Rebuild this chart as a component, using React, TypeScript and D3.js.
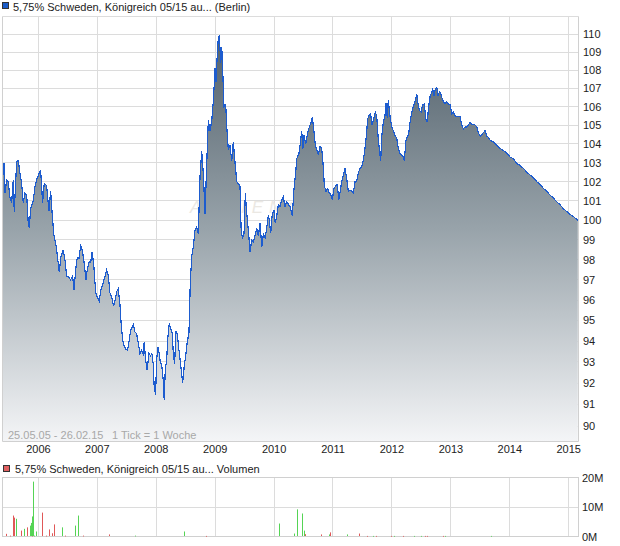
import React from 'react';
import * as d3 from 'd3';

// weekly closing prices: [decimal year, price]
const priceSeries: [number, number][] = [
[2005.392,102.2],[2005.414,103.0],[2005.431,101.4],[2005.460,102.1],[2005.487,102.0],[2005.516,101.2],[2005.545,100.9],[2005.572,102.1],[2005.589,100.45],[2005.630,103.05],[2005.657,103.1],[2005.686,102.45],[2005.715,101.9],[2005.742,100.9],[2005.771,101.4],[2005.800,101.3],[2005.827,99.85],[2005.844,99.6],[2005.868,100.6],[2005.912,101.0],[2005.941,101.75],[2005.969,102.1],
[2006.014,102.45],[2006.037,102.6],[2006.071,100.9],[2006.098,101.9],[2006.139,101.8],[2006.178,100.5],[2006.207,101.5],[2006.241,100.0],[2006.263,99.25],[2006.297,98.75],[2006.319,98.25],[2006.353,97.4],[2006.382,98.15],[2006.421,98.5],[2006.450,98.0],[2006.479,97.15],[2006.506,97.15],[2006.547,97.0],[2006.581,97.2],[2006.603,96.5],[2006.637,97.6],[2006.659,98.1],[2006.688,98.05],[2006.716,98.7],[2006.744,98.5],[2006.778,97.8],[2006.806,97.0],[2006.829,97.5],[2006.862,97.9],[2006.886,97.85],[2006.913,98.4],[2006.942,97.65],[2006.971,96.4],[2006.998,96.15],
[2007.032,95.95],[2007.061,96.5],[2007.100,96.85],[2007.129,97.15],[2007.158,97.5],[2007.185,97.25],[2007.214,96.35],[2007.248,96.1],[2007.277,95.7],[2007.299,95.95],[2007.328,96.4],[2007.355,96.55],[2007.384,95.8],[2007.406,94.8],[2007.430,94.05],[2007.452,93.8],[2007.486,93.6],[2007.514,93.55],[2007.542,94.05],[2007.565,94.5],[2007.593,94.7],[2007.610,94.8],[2007.638,94.45],[2007.667,94.35],[2007.694,93.95],[2007.723,93.4],[2007.752,93.55],[2007.779,93.4],[2007.796,93.95],[2007.820,93.1],[2007.847,92.6],[2007.876,93.4],[2007.905,93.3],[2007.927,93.4],[2007.949,92.9],[2007.966,91.8],[2007.990,91.45],
[2008.007,93.1],[2008.029,93.7],[2008.051,93.4],[2008.068,93.0],[2008.092,92.9],[2008.119,92.15],[2008.136,91.2],[2008.153,92.6],[2008.177,93.1],[2008.194,94.05],[2008.221,94.85],[2008.245,94.6],[2008.272,94.4],[2008.289,93.4],[2008.312,92.9],[2008.335,94.5],[2008.357,94.35],[2008.380,93.7],[2008.402,93.2],[2008.425,92.6],[2008.448,92.0],[2008.475,92.8],[2008.504,93.4],[2008.526,93.95],[2008.555,94.4],[2008.577,96.8],[2008.601,98.15],[2008.628,98.65],[2008.657,99.5],[2008.686,99.65],[2008.713,99.3],[2008.742,102.25],[2008.771,103.6],[2008.798,102.45],[2008.827,100.35],[2008.856,102.95],[2008.883,105.25],[2008.912,104.7],[2008.941,105.25],[2008.968,106.3],[2008.997,108.1],
[2009.014,107.35],[2009.036,109.0],[2009.053,109.8],[2009.070,109.9],[2009.093,108.4],[2009.110,109.3],[2009.127,108.0],[2009.149,106.0],[2009.178,106.1],[2009.200,104.7],[2009.222,103.7],[2009.251,103.9],[2009.280,103.1],[2009.307,104.1],[2009.336,103.0],[2009.365,102.0],[2009.392,101.9],[2009.421,101.75],[2009.438,99.65],[2009.460,99.1],[2009.489,99.3],[2009.511,101.4],[2009.535,100.35],[2009.562,99.5],[2009.591,98.4],[2009.620,99.0],[2009.647,98.9],[2009.676,99.25],[2009.705,99.6],[2009.732,99.2],[2009.761,99.85],[2009.790,98.65],[2009.817,99.3],[2009.846,99.1],[2009.874,99.6],[2009.902,100.25],[2009.919,100.0],[2009.942,99.35],[2009.969,100.35],[2009.998,100.5],
[2010.020,99.85],[2010.044,100.2],[2010.071,100.8],[2010.100,100.7],[2010.129,101.05],[2010.156,101.2],[2010.185,100.7],[2010.214,100.95],[2010.270,100.7],[2010.309,100.25],[2010.338,101.65],[2010.367,102.5],[2010.384,103.2],[2010.423,103.5],[2010.452,104.2],[2010.469,104.7],[2010.486,103.7],[2010.508,104.45],[2010.537,104.0],[2010.571,104.6],[2010.598,104.9],[2010.627,105.15],[2010.649,105.45],[2010.678,104.6],[2010.700,103.9],[2010.723,103.7],[2010.751,103.4],[2010.779,103.85],[2010.808,103.75],[2010.835,102.8],[2010.852,101.8],[2010.881,101.5],[2010.910,101.65],[2010.937,101.4],[2010.961,101.35],[2010.988,101.05],
[2011.017,101.65],[2011.051,101.8],[2011.073,101.85],[2011.097,101.05],[2011.119,101.45],[2011.148,102.0],[2011.175,102.35],[2011.204,102.7],[2011.233,102.15],[2011.260,101.5],[2011.289,101.55],[2011.318,101.5],[2011.345,101.4],[2011.374,102.0],[2011.402,102.0],[2011.430,102.45],[2011.458,102.7],[2011.487,102.8],[2011.514,103.1],[2011.543,103.75],[2011.572,104.6],[2011.589,105.35],[2011.611,105.5],[2011.640,105.6],[2011.662,105.0],[2011.691,105.3],[2011.718,105.7],[2011.742,105.5],[2011.764,104.45],[2011.786,103.75],[2011.810,103.1],[2011.827,104.35],[2011.854,105.15],[2011.883,105.5],[2011.900,106.2],[2011.922,105.4],[2011.939,106.35],[2011.968,105.5],[2011.997,104.9],
[2012.024,104.7],[2012.053,104.45],[2012.082,104.3],[2012.109,103.75],[2012.138,103.5],[2012.166,103.4],[2012.194,103.3],[2012.211,103.1],[2012.239,104.2],[2012.261,104.35],[2012.285,104.55],[2012.307,105.15],[2012.336,105.7],[2012.363,106.0],[2012.392,106.25],[2012.421,106.7],[2012.443,106.15],[2012.465,105.8],[2012.494,105.7],[2012.523,106.1],[2012.550,106.15],[2012.574,105.35],[2012.601,105.15],[2012.618,105.9],[2012.647,106.55],[2012.676,106.8],[2012.693,106.95],[2012.715,106.6],[2012.732,106.9],[2012.761,107.05],[2012.783,106.6],[2012.805,106.8],[2012.829,106.7],[2012.851,106.45],[2012.873,106.25],[2012.902,106.15],[2012.930,106.25],[2012.958,106.15],[2012.986,106.1],
[2013.015,105.6],[2013.042,105.7],[2013.071,105.5],[2013.100,105.45],[2013.127,105.45],[2013.156,105.45],[2013.185,105.0],[2013.212,104.8],[2013.241,104.9],[2013.270,104.9],[2013.297,105.0],[2013.326,105.15],[2013.355,105.05],[2013.382,105.05],[2013.411,105.0],[2013.440,104.9],[2013.467,104.6],[2013.496,104.4],[2013.525,104.5],[2013.552,104.6],[2013.581,104.7],[2013.610,104.4],[2013.637,104.35],[2013.666,104.2],[2013.722,104.1],[2013.779,103.9],[2013.835,103.75],[2013.891,103.65],[2013.949,103.5],
[2014.005,103.3],[2014.061,103.2],[2014.119,102.95],[2014.175,102.85],[2014.231,102.7],[2014.289,102.5],[2014.345,102.35],[2014.401,102.2],[2014.458,102.0],[2014.514,101.85],[2014.571,101.65],[2014.628,101.5],[2014.684,101.3],[2014.740,101.15],[2014.798,100.95],[2014.854,100.8],[2014.910,100.6],[2014.968,100.45],
[2015.024,100.3],[2015.080,100.2],[2015.155,100.0]
];

// weekly volume: [decimal year, volume in millions, 1 = up week (green) / 0 = down week (red)]
const volumeSeries: [number, number, number][] = [
[2005.441,0.9,0],[2005.514,0.3,0],[2005.562,7.1,0],[2005.589,6.4,0],[2005.616,6.0,1],[2005.710,2.0,0],[2005.757,2.6,1],[2005.805,3.1,0],[2005.852,3.7,1],[2005.873,4.6,1],[2005.885,0.3,0],[2005.898,6.8,1],[2005.912,18.6,1],[2005.925,0.3,1],[2005.952,1.7,1],
[2006.068,8.1,0],[2006.121,0.3,0],[2006.182,2.4,0],[2006.222,1.1,0],[2006.256,4.1,0],[2006.404,3.1,1],[2006.445,0.3,0],[2006.626,3.7,1],[2006.667,7.1,1],[2006.761,0.3,0],
[2007.199,0.7,0],[2007.637,0.3,1],[2008.472,1.7,1],[2008.837,0.2,0],
[2010.076,4.4,1],[2010.345,1.0,1],[2010.385,9.2,1],[2010.467,7.8,1],[2010.508,2.0,1],[2010.521,0.8,0],[2010.790,0.7,0],[2010.925,0.7,1],[2010.953,1.4,0],
[2011.234,0.7,1],[2011.436,1.0,0],[2011.579,0.2,0],[2011.679,0.2,1],[2011.734,0.2,0],[2011.983,0.2,0],
[2012.036,0.2,1],[2012.185,0.2,0],[2012.367,0.2,1],[2012.487,0.2,1],[2012.569,0.2,0],[2012.596,0.2,0],[2012.859,0.2,0],[2012.905,0.2,1],[2013.688,0.2,1]
];

const priceTicks = [90, 91, 92, 93, 94, 95, 96, 97, 98, 99, 100, 101, 102, 103, 104, 105, 106, 107, 108, 109, 110];
const gridLevels = [90, 91, 92, 93, 94, 95, 96, 97, 98, 99, 100, 101, 102, 103, 104, 105, 106, 107, 108, 109, 110, 111];
const yearTicks = [2006, 2007, 2008, 2009, 2010, 2011, 2012, 2013, 2014, 2015];
const volumeTicks = [0, 10, 20];
const volumeTickLabels = ['0M', '10M', '20M'];

const titleText = '5,75% Schweden, Königreich 05/15 au... (Berlin)';
const volumeTitle = '5,75% Schweden, Königreich 05/15 au... Volumen';
const rangeText = '25.05.05 - 26.02.15';
const tickText = '1 Tick = 1 Woche';

const FONT = '"Liberation Sans", Arial, Helvetica, sans-serif';

function toDate(t: number): Date {
  const y = Math.floor(t);
  const s = Date.UTC(y, 0, 1);
  const e = Date.UTC(y + 1, 0, 1);
  return new Date(s + (t - y) * (e - s));
}

export default function App() {
  const L = 2.5, R = 578.5, T = 16.5, B = 441.5;
  const VT = 477.5, VB = 536.5;

  const x = d3.scaleUtc()
    .domain([new Date(Date.UTC(2005, 4, 25)), new Date(Date.UTC(2015, 1, 26))])
    .range([2.8, 577.7]);
  const y = d3.scaleLog().domain([90, 110]).range([426, 34.3]);
  const yv = d3.scaleLinear().domain([0, 20]).range([VB, VT]);

  const area = d3.area<[number, number]>()
    .x(d => x(toDate(d[0])))
    .y0(B)
    .y1(d => y(d[1]));
  const line = d3.line<[number, number]>()
    .x(d => x(toDate(d[0])))
    .y(d => y(d[1]));

  const snap = (v: number) => Math.round(v - 0.5) + 0.5;
  const gridColor = '#dcdcdc';

  return (
    <svg width={620} height={546} style={{ position: 'absolute', left: 0, top: 0, background: '#fff' }}
      fontFamily={FONT}>
      <defs>
        <linearGradient id="areaGrad" gradientUnits="userSpaceOnUse" x1={0} y1={T} x2={0} y2={B}>
          <stop offset="0%" stopColor="#4b5a65" />
          <stop offset="50%" stopColor="#98a3aa" />
          <stop offset="100%" stopColor="#f4f5f7" />
        </linearGradient>
        <clipPath id="plotClip">
          <rect x={L} y={T} width={R - L} height={B - T} />
        </clipPath>
      </defs>

      {/* title legend */}
      <rect x={2.5} y={2.5} width={6} height={6} fill="#1a5cc8" stroke="#333" strokeWidth={1} />
      <text x={13} y={10.5} fontSize={11} fill="#222">{titleText}</text>

      {/* main grid */}
      {gridLevels.map(v => (
        <line key={'h' + v} x1={L} x2={R} y1={snap(y(v))} y2={snap(y(v))} stroke={gridColor} />
      ))}
      {yearTicks.map(yr => {
        const xx = snap(x(new Date(Date.UTC(yr, 0, 1))));
        return <line key={'v' + yr} x1={xx} x2={xx} y1={T} y2={B} stroke={gridColor} />;
      })}

      {/* watermark */}
      <text x={190} y={213} fontSize={17} fontStyle="italic" letterSpacing={6} fill="#ebe8e3">AKTIENCHECK</text>

      {/* area + line */}
      <g clipPath="url(#plotClip)">
        <path d={area(priceSeries) || ''} fill="url(#areaGrad)" />
        <path d={line(priceSeries) || ''} fill="none" stroke="#1d5ccf" strokeWidth={1.2}
          shapeRendering="crispEdges" />
      </g>

      {/* frame */}
      <line x1={L} x2={L} y1={T} y2={B} stroke="#d0d0d0" />
      <line x1={R} x2={R} y1={T} y2={B} stroke="#d0d0d0" />
      <line x1={L} x2={R} y1={B} y2={B} stroke="#d0d0d0" />

      <text x={8} y={438.5} fontSize={11} fill="#a8a8a8">{rangeText}</text>
      <text x={112} y={438.5} fontSize={11} fill="#a8a8a8">{tickText}</text>

      {/* right axis */}
      {priceTicks.map(v => (
        <text key={'t' + v} x={583} y={y(v) + 4} fontSize={11} fill="#222">{v}</text>
      ))}

      {/* year axis */}
      {yearTicks.map(yr => (
        <text key={'y' + yr} x={x(new Date(Date.UTC(yr, 0, 1)))} y={453} fontSize={11} fill="#222" textAnchor="middle">{yr}</text>
      ))}

      {/* volume legend */}
      <rect x={3.5} y={465.5} width={6} height={6} fill="#e06060" stroke="#333" strokeWidth={1} />
      <text x={15} y={472.5} fontSize={11} fill="#222">{volumeTitle}</text>

      {/* volume grid */}
      <line x1={L} x2={R} y1={snap(yv(10))} y2={snap(yv(10))} stroke={gridColor} />
      {yearTicks.map(yr => {
        const xx = snap(x(new Date(Date.UTC(yr, 0, 1))));
        return <line key={'vv' + yr} x1={xx} x2={xx} y1={VT} y2={VB} stroke={gridColor} />;
      })}
      <rect x={L} y={VT} width={R - L} height={VB - VT} fill="none" stroke="#d0d0d0" />

      {/* volume bars */}
      {volumeSeries.map((d, i) => {
        const xx = Math.round(x(toDate(d[0])));
        const top = yv(d[1]);
        return <rect key={'b' + i} x={xx} y={top} width={1} height={Math.max(0.8, VB - 0.5 - top)}
          fill={d[2] ? '#55d455' : '#e05858'} />;
      })}

      {volumeTicks.map((v, i) => (
        <text key={'vt' + v} x={582} y={yv(v) + 4} fontSize={11} fill="#222">{volumeTickLabels[i]}</text>
      ))}
    </svg>
  );
}
